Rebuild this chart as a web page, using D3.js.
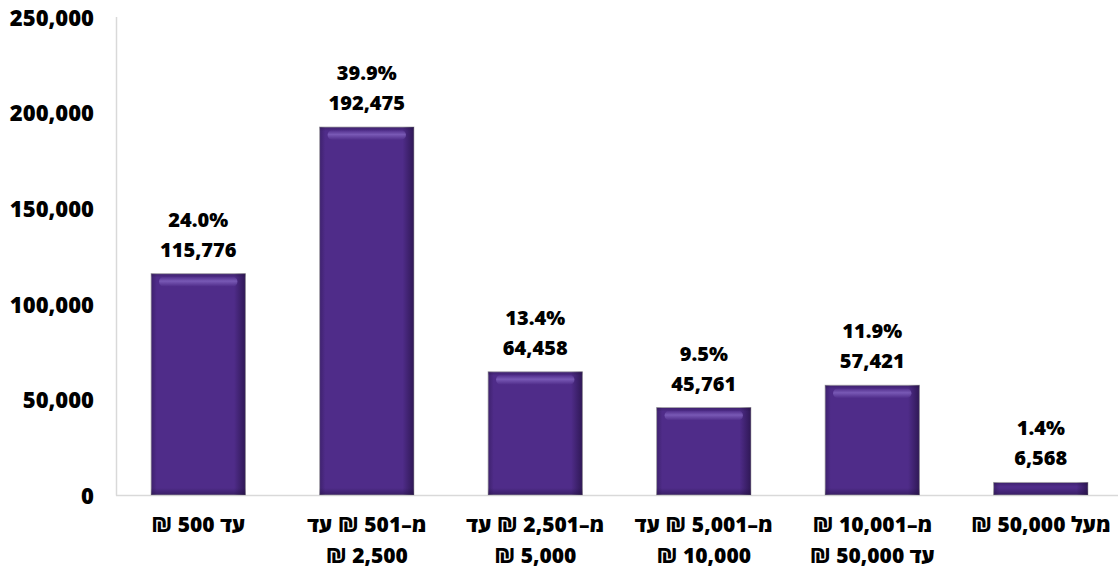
<!DOCTYPE html>
<html><head><meta charset="utf-8">
<script src="https://cdn.jsdelivr.net/npm/d3@7"></script>
<style>
html,body{margin:0;padding:0;background:#fff;}
svg{display:block;font-family:"Open Sans","Liberation Sans",sans-serif;}
</style></head>
<body>
<svg id="chart" width="1118" height="572"></svg>
<script>
const categories = [
  ["עד 500 ₪"],
  ["מ–501 ₪ עד", "2,500 ₪"],
  ["מ–2,501 ₪ עד", "5,000 ₪"],
  ["מ–5,001 ₪ עד", "10,000 ₪"],
  ["מ–10,001 ₪", "עד 50,000 ₪"],
  ["מעל 50,000 ₪"]
];
const values = [115776, 192475, 64458, 45761, 57421, 6568];
const percents = ["24.0%", "39.9%", "13.4%", "9.5%", "11.9%", "1.4%"];
const yTicks = [0, 50000, 100000, 150000, 200000, 250000];

const svg = d3.select("#chart");
const x0 = 114, x1 = 1125, yTop = 17, yBase = 495;
const ids = categories.map((c,i)=>"c"+i);
const x = d3.scaleBand().domain(ids).range([x0, x1]).paddingInner(0.44).paddingOuter(0.22);
const y = d3.scaleLinear().domain([0, 250000]).range([yBase, yTop]);

const defs = svg.append("defs");
const gh = defs.append("linearGradient").attr("id","gh").attr("x1",0).attr("x2",1).attr("y1",0).attr("y2",0);
gh.append("stop").attr("offset","0").attr("stop-color","#1e0d3a").attr("stop-opacity",0.35);
gh.append("stop").attr("offset","0.06").attr("stop-color","#1e0d3a").attr("stop-opacity",0);
gh.append("stop").attr("offset","0.88").attr("stop-color","#1e0d3a").attr("stop-opacity",0);
gh.append("stop").attr("offset","1").attr("stop-color","#1e0d3a").attr("stop-opacity",0.65);
const gt = defs.append("linearGradient").attr("id","gt").attr("x1",0).attr("x2",0).attr("y1",0).attr("y2",1);
gt.append("stop").attr("offset","0").attr("stop-color","#8a6cc8").attr("stop-opacity",0);
gt.append("stop").attr("offset","0.45").attr("stop-color","#8a6cc8").attr("stop-opacity",0.7);
gt.append("stop").attr("offset","1").attr("stop-color","#8a6cc8").attr("stop-opacity",0);
const gb = defs.append("linearGradient").attr("id","gb").attr("x1",0).attr("x2",0).attr("y1",0).attr("y2",1);
gb.append("stop").attr("offset","0").attr("stop-color","#1e0d3a").attr("stop-opacity",0);
gb.append("stop").attr("offset","1").attr("stop-color","#1e0d3a").attr("stop-opacity",0.45);
const gtop = defs.append("linearGradient").attr("id","gtop").attr("x1",0).attr("x2",0).attr("y1",0).attr("y2",1);
gtop.append("stop").attr("offset","0").attr("stop-color","#1e0d3a").attr("stop-opacity",0.35);
gtop.append("stop").attr("offset","1").attr("stop-color","#1e0d3a").attr("stop-opacity",0);

// axes lines
svg.append("line").attr("x1",116.5).attr("x2",116.5).attr("y1",yTop).attr("y2",yBase+0.5)
  .attr("stroke","#d9d9d9").attr("stroke-width",1.5);
svg.append("line").attr("x1",116).attr("x2",1118).attr("y1",yBase+0.5).attr("y2",yBase+0.5)
  .attr("stroke","#d9d9d9").attr("stroke-width",1.5);

// y labels
svg.append("g").selectAll("text").data(yTicks).join("text")
  .attr("x",94).attr("y",d=>y(d)+1).attr("dy","0.35em").attr("text-anchor","end")
  .attr("font-size",22).attr("font-weight",800).attr("fill","#000")
  .text(d=>d3.format(",")(d));

const bars = svg.append("g").selectAll("g").data(values).join("g");
bars.append("rect").attr("x",(d,i)=>x(ids[i])).attr("y",d=>y(d))
  .attr("width",x.bandwidth()).attr("height",d=>yBase-y(d))
  .attr("fill","#4f2c89").attr("stroke","#c4c4c4").attr("stroke-width",1);
bars.append("rect").attr("x",(d,i)=>x(ids[i])).attr("y",d=>y(d))
  .attr("width",x.bandwidth()).attr("height",d=>yBase-y(d)).attr("fill","url(#gh)");
bars.append("rect").attr("x",(d,i)=>x(ids[i])).attr("y",d=>Math.max(y(d), yBase-7))
  .attr("width",x.bandwidth()).attr("height",d=>Math.min(7, yBase-y(d))).attr("fill","url(#gb)");
bars.append("rect").attr("x",(d,i)=>x(ids[i])).attr("y",d=>y(d))
  .attr("width",x.bandwidth()).attr("height",d=>Math.min(4, yBase-y(d))).attr("fill","url(#gtop)");
bars.filter(d=>yBase-y(d) > 20).append("rect").attr("x",(d,i)=>x(ids[i])+8).attr("y",d=>y(d)+3)
  .attr("width",x.bandwidth()-16).attr("height",10).attr("rx",5).attr("fill","url(#gt)");

// value labels
bars.append("text").attr("x",(d,i)=>x(ids[i])+x.bandwidth()/2).attr("y",d=>y(d)-24).attr("dy","0.35em")
  .attr("text-anchor","middle").attr("font-size",20).attr("font-weight",800).attr("fill","#000")
  .text(d=>d3.format(",")(d));
bars.append("text").attr("x",(d,i)=>x(ids[i])+x.bandwidth()/2).attr("y",d=>y(d)-54).attr("dy","0.35em")
  .attr("text-anchor","middle").attr("font-size",20).attr("font-weight",800).attr("fill","#000")
  .text((d,i)=>percents[i]);

// category labels
const cl = svg.append("g").selectAll("text").data(categories).join("text")
  .attr("text-anchor","middle").attr("direction","rtl").attr("unicode-bidi","embed")
  .attr("font-size",21).attr("font-weight",800).attr("fill","#000");
cl.each(function(lines,i){
  const t = d3.select(this);
  lines.forEach((ln,j)=>{
    t.append("tspan").attr("x",x(ids[i])+x.bandwidth()/2).attr("y",525+j*31).attr("dy","0.35em").text(ln);
  });
});
</script>
</body></html>
